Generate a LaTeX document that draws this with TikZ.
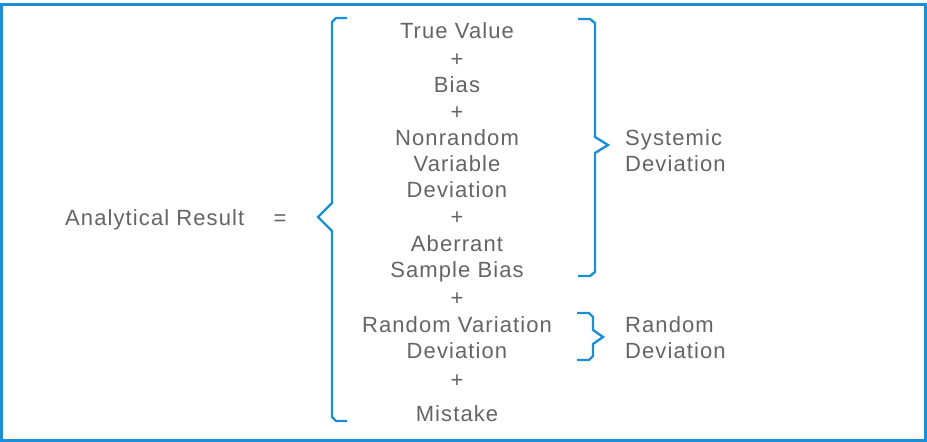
\documentclass[tikz,border=0pt]{standalone}
\usepackage{fontspec}
\setmainfont[LetterSpace=5]{Liberation Sans}
\definecolor{frameblue}{HTML}{1A8FD6}
\definecolor{textgray}{HTML}{646464}
\begin{document}
\begin{tikzpicture}[x=1pt,y=1pt,
  txt/.style={text=textgray,font=\fontsize{22}{24}\selectfont,inner sep=0pt},
  mid/.style={txt,anchor=base},
  lft/.style={txt,anchor=base west},
  brace/.style={draw=frameblue,line width=2.4pt,line join=miter}]
\useasboundingbox (0,0) rectangle (927,-442);
% outer frame
\draw[frameblue,line width=3pt] (1.5,-4) rectangle (925.5,-440.5);

% stacked terms
\node[mid] (t1)  at (457,-38)  {True Value};
\node[mid] (p1)  at (457,-66)  {+};
\node[mid] (t2)  at (457,-92)  {Bias};
\node[mid] (p2)  at (457,-119) {+};
\node[mid] (t3a) at (457,-145) {Nonrandom};
\node[mid] (t3b) at (457,-171) {Variable};
\node[mid] (t3c) at (457,-197) {Deviation};
\node[mid] (p3)  at (457,-224) {+};
\node[mid] (t4a) at (457,-251) {Aberrant};
\node[mid] (t4b) at (457,-277) {Sample Bias};
\node[mid] (p4)  at (457,-305) {+};
\node[mid] (t5a) at (457,-332) {Random Variation};
\node[mid] (t5b) at (457,-358) {Deviation};
\node[mid] (p5)  at (457,-387) {+};
\node[mid] (t6)  at (457,-421) {Mistake};

% left-hand side
\node[lft] (res) at (65,-225) {Analytical Result};
\node[mid] (eq)  at (280,-225) {=};

% group labels
\node[lft] (sysa) at (625,-145) {Systemic};
\node[lft] (sysb) at (625,-171) {Deviation};
\node[lft] (rnda) at (625,-332) {Random};
\node[lft] (rndb) at (625,-358) {Deviation};

% big left brace
\draw[brace] (347,-18) -- (336,-18) -- (332,-22) -- (332,-203) -- (318,-217)
  -- (332,-231) -- (332,-417) -- (336,-421) -- (347,-421);
% brace for systemic terms
\draw[brace] (578,-19) -- (590,-19) -- (595,-23) -- (595,-137) -- (608,-145)
  -- (595,-153) -- (595,-272) -- (590,-276) -- (578,-276);
% brace for random term
\draw[brace] (577,-313) -- (589,-313) -- (593,-317) -- (593,-330) -- (603,-337)
  -- (593,-344) -- (593,-356) -- (589,-360) -- (577,-360);
\end{tikzpicture}
\end{document}
